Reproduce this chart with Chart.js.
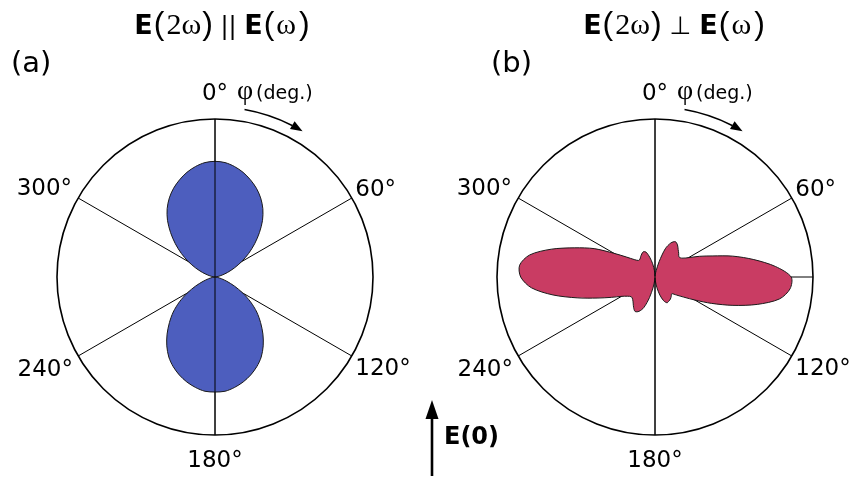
<!DOCTYPE html>
<html>
<head>
<meta charset="utf-8">
<script src="https://cdn.jsdelivr.net/npm/chart.js@4.4.1/dist/chart.umd.min.js"></script>
<style>
  html, body { margin: 0; padding: 0; background: #ffffff; }
  #wrap { position: relative; width: 853px; height: 480px; }
  #wrap canvas { position: absolute; left: 0; top: 0; }
</style>
</head>
<body>
<div id="wrap">
  <canvas id="chart-a" width="853" height="480"></canvas>
  <canvas id="chart-b" width="853" height="480"></canvas>
</div>
<script>
// azimuth phi (deg.), 5 degree steps, clockwise from the top
const phiDeg = [
  0, 5, 10, 15, 20, 25, 30, 35, 40, 45, 50, 55,
  60, 65, 70, 75, 80, 85, 90, 95, 100, 105, 110, 115,
  120, 125, 130, 135, 140, 145, 150, 155, 160, 165, 170, 175,
  180, 185, 190, 195, 200, 205, 210, 215, 220, 225, 230, 235,
  240, 245, 250, 255, 260, 265, 270, 275, 280, 285, 290, 295,
  300, 305, 310, 315, 320, 325, 330, 335, 340, 345, 350, 355
];

// labelled spokes
const spokeDeg = [0, 60, 120, 180, 240, 300];
const spokeLabels = ['0°', '60°', '120°', '180°', '240°', '300°'];

// SHG intensity (arb. u.), E(2w) parallel to E(w)
const shgParallel = [
  0.732, 0.727, 0.710, 0.686, 0.655, 0.620, 0.578, 0.528, 0.468, 0.398, 0.328, 0.260,
  0.195, 0.135, 0.085, 0.046, 0.020, 0.006, 0.000, 0.005, 0.018, 0.042, 0.080, 0.135,
  0.203, 0.275, 0.345, 0.408, 0.472, 0.532, 0.585, 0.626, 0.660, 0.688, 0.710, 0.726,
  0.728, 0.726, 0.710, 0.688, 0.660, 0.626, 0.585, 0.532, 0.472, 0.408, 0.345, 0.275,
  0.203, 0.135, 0.080, 0.042, 0.018, 0.005, 0.000, 0.006, 0.020, 0.046, 0.085, 0.135,
  0.195, 0.260, 0.328, 0.398, 0.468, 0.528, 0.578, 0.620, 0.655, 0.686, 0.710, 0.727
];

// SHG intensity (arb. u.), E(2w) perpendicular to E(w)
const shgPerp = [
  0.005, 0.015, 0.040, 0.100, 0.190, 0.238, 0.258, 0.248, 0.228, 0.212, 0.198, 0.208,
  0.245, 0.310, 0.390, 0.510, 0.635, 0.765, 0.862, 0.858, 0.800, 0.670, 0.525, 0.395,
  0.292, 0.222, 0.178, 0.150, 0.160, 0.170, 0.176, 0.180, 0.160, 0.118, 0.066, 0.025,
  0.005, 0.020, 0.065, 0.135, 0.205, 0.240, 0.252, 0.236, 0.215, 0.200, 0.195, 0.212,
  0.245, 0.305, 0.390, 0.510, 0.655, 0.785, 0.850, 0.860, 0.805, 0.680, 0.540, 0.425,
  0.300, 0.220, 0.172, 0.148, 0.148, 0.158, 0.168, 0.176, 0.168, 0.130, 0.085, 0.040
];

const SANS = '"DejaVu Sans", sans-serif';
const ARIAL = '"Liberation Sans", sans-serif';
const SERIF = '"Liberation Serif", serif';

// where each spoke label sits: distance from centre, alignment, top-anchored or not
const spokeLayout = {
  0:   { dist: 177, align: 'center', top: false },
  60:  { dist: 162, align: 'left',   top: false },
  120: { dist: 162, align: 'left',   top: true },
  180: { dist: 173, align: 'center', top: true },
  240: { dist: 164, align: 'right',  top: true },
  300: { dist: 165, align: 'right',  top: false }
};

// parts: [text, font, extra gap after]
function drawRich(ctx, parts, cx, baseline) {
  let total = 0;
  parts.forEach(p => { ctx.font = p[1]; total += ctx.measureText(p[0]).width + (p[2] || 0); });
  let x = cx - total / 2;
  ctx.textAlign = 'left';
  ctx.textBaseline = 'alphabetic';
  parts.forEach(p => {
    ctx.font = p[1];
    ctx.fillText(p[0], x, baseline);
    x += ctx.measureText(p[0]).width + (p[2] || 0);
  });
}

//chart plugins [polarDecor]
const polarDecor = {
  id: 'polarDecor',
  afterDatasetsDraw: (chart, args, options) => {
    const {ctx} = chart;
    const r = chart.scales.r;
    const R = r.drawingArea;
    const xc = r.xCenter, yc = r.yCenter;

    ctx.save();
    ctx.fillStyle = '#000';
    ctx.strokeStyle = '#000';

    // vertical spoke sits on top of the lobes
    const top = r.getPointPosition(phiDeg.indexOf(0), R);
    const bot = r.getPointPosition(phiDeg.indexOf(180), R);
    ctx.lineWidth = 1;
    ctx.beginPath();
    ctx.moveTo(top.x, top.y);
    ctx.lineTo(bot.x, bot.y);
    ctx.stroke();

    // spoke labels
    ctx.font = '23px ' + SANS;
    ctx.textBaseline = 'alphabetic';
    spokeDeg.forEach((deg, i) => {
      const lay = spokeLayout[deg];
      const p = r.getPointPosition(phiDeg.indexOf(deg), lay.dist);
      ctx.textAlign = lay.align;
      ctx.fillText(spokeLabels[i], p.x, lay.top ? p.y + 17 : p.y);
    });

    // phi (deg.) with the curved arrow
    ctx.textAlign = 'left';
    ctx.font = '28px ' + SERIF;
    ctx.fillText('φ', xc + 22, yc - 178);
    ctx.font = '19px ' + SANS;
    ctx.fillText('(deg.)', xc + 41, yc - 178);

    const ra = 170;
    const a0 = 10 * Math.PI / 180, a1 = 27 * Math.PI / 180, aTip = 31 * Math.PI / 180;
    ctx.lineWidth = 1.5;
    ctx.beginPath();
    ctx.arc(xc, yc, ra, a0 - Math.PI / 2, a1 - Math.PI / 2);
    ctx.stroke();
    const tip = {x: xc + ra * Math.sin(aTip), y: yc - ra * Math.cos(aTip)};
    const tx = Math.cos(aTip), ty = Math.sin(aTip);
    const bx = tip.x - 12 * tx, by = tip.y - 12 * ty;
    ctx.beginPath();
    ctx.moveTo(tip.x, tip.y);
    ctx.lineTo(bx - 4.5 * ty, by + 4.5 * tx);
    ctx.lineTo(bx + 4.5 * ty, by - 4.5 * tx);
    ctx.closePath();
    ctx.fill();

    // panel title and tag
    drawRich(ctx, options.title, options.titleX, 34);
    ctx.font = '29px ' + SANS;
    ctx.textAlign = 'left';
    ctx.fillText(options.tag, options.tagX, 72);

    // field direction arrow
    if (options.field) {
      ctx.lineWidth = 2.6;
      ctx.beginPath();
      ctx.moveTo(432, 476);
      ctx.lineTo(432, 412);
      ctx.stroke();
      ctx.beginPath();
      ctx.moveTo(432, 400);
      ctx.lineTo(438.5, 419);
      ctx.lineTo(425.5, 419);
      ctx.closePath();
      ctx.fill();
      ctx.font = 'bold 24px ' + SANS;
      ctx.fillText('E(0)', 444, 444);
    }

    ctx.restore();
  }
};

function polarChart(id, values, color, extraSpoke, padding, decor) {
  const spokes = spokeDeg.concat(extraSpoke);
  return new Chart(document.getElementById(id), {
    type: 'radar',
    data: {
      labels: phiDeg,
      datasets: [{
        data: values,
        backgroundColor: color,
        borderColor: '#1a1a1a',
        borderWidth: 1,
        fill: 'origin',
        tension: 0.3,
        pointRadius: 0
      }]
    },
    options: {
      responsive: false,
      animation: false,
      layout: { padding: padding },
      plugins: {
        legend: { display: false },
        tooltip: { enabled: false },
        polarDecor: decor
      },
      scales: {
        r: {
          min: 0,
          max: 1,
          ticks: { display: false, stepSize: 1 },
          pointLabels: { display: false },
          grid: { circular: true, color: '#000', lineWidth: 1.6 },
          angleLines: {
            color: '#000',
            lineWidth: c => spokes.includes(phiDeg[c.index]) ? 1 : 0
          }
        }
      }
    },
    plugins: [polarDecor]
  });
}

const boldE = 'bold 27px ' + SANS;
const paren = '32px ' + ARIAL;
const greek = '30px ' + SERIF;

polarChart('chart-a', shgParallel, '#4d5ebe', [],
  { left: 57, right: 480, top: 119, bottom: 45 },
  {
    title: [['E', boldE, 1], ['(', paren, 2], ['2ω', greek, 1], [')', paren], [' || ', '24px ' + SANS],
            ['E', boldE, 1], ['(', paren, 2], ['ω', greek, 3], [')', paren]],
    titleX: 222, tag: '(a)', tagX: 11, field: false
  });

polarChart('chart-b', shgPerp, '#c93c63', [90],
  { left: 497, right: 40, top: 119, bottom: 45 },
  {
    title: [['E', boldE, 1], ['(', paren, 2], ['2ω', greek, 1], [')', paren], [' ⊥ ', '25px ' + SANS],
            ['E', boldE, 1], ['(', paren, 2], ['ω', greek, 3], [')', paren]],
    titleX: 674, tag: '(b)', tagX: 491, field: true
  });
</script>
</body>
</html>
